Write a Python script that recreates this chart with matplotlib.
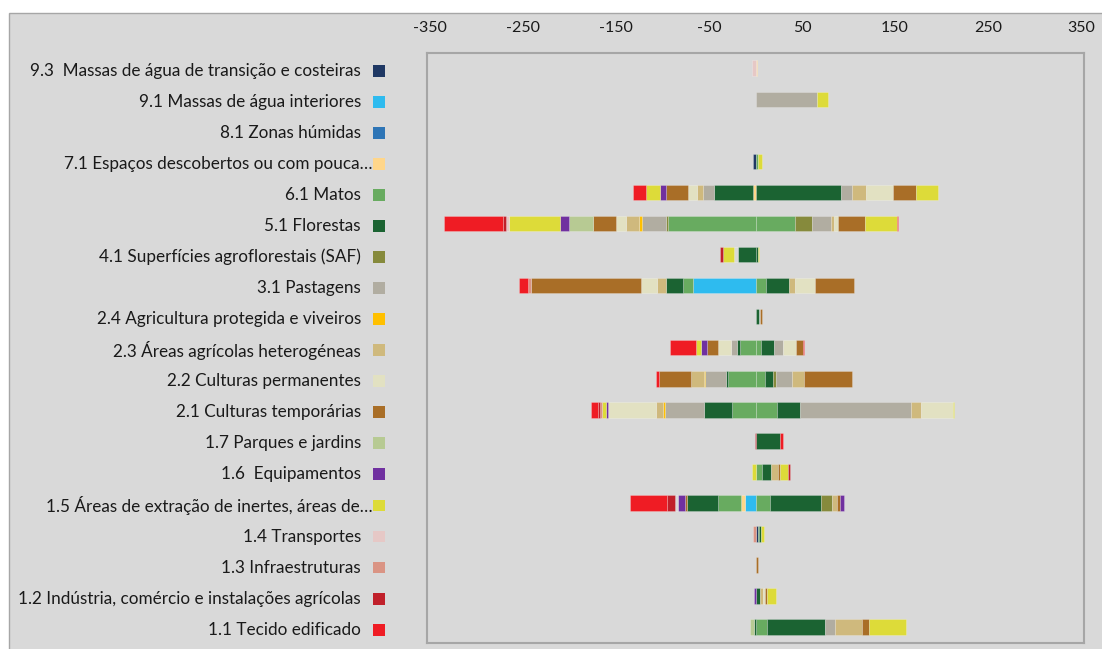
import numpy as np
import matplotlib.pyplot as plt
from matplotlib.transforms import blended_transform_factory
from matplotlib.patches import Rectangle

plt.rcParams["axes.unicode_minus"] = False

# classes: stacking order from zero outwards, also the rows top to bottom
codes = ["9.3", "9.1", "8.1", "7.1", "6.1", "5.1", "4.1", "3.1", "2.4", "2.3",
         "2.2", "2.1", "1.7", "1.6", "1.5", "1.4", "1.3", "1.2", "1.1"]

labels = ["9.3  Massas de água de transição e costeiras",
          "9.1 Massas de água interiores",
          "8.1 Zonas húmidas",
          "7.1 Espaços descobertos ou com pouca…",
          "6.1 Matos",
          "5.1 Florestas",
          "4.1 Superfícies agroflorestais (SAF)",
          "3.1 Pastagens",
          "2.4 Agricultura protegida e viveiros",
          "2.3 Áreas agrícolas heterogéneas",
          "2.2 Culturas permanentes",
          "2.1 Culturas temporárias",
          "1.7 Parques e jardins",
          "1.6  Equipamentos",
          "1.5 Áreas de extração de inertes, áreas de…",
          "1.4 Transportes",
          "1.3 Infraestruturas",
          "1.2 Indústria, comércio e instalações agrícolas",
          "1.1 Tecido edificado"]

colors = ["#1f3864", "#2ebbef", "#2e75b6", "#ffd68a", "#68ab60", "#1b6332",
          "#868a3c", "#b1ada1", "#ffc000", "#cfb97d", "#e2e1c2", "#a96e27",
          "#b7ca93", "#7030a0", "#dddb39", "#e6c8c6", "#da9484", "#c0202a",
          "#ef1c24"]

# transitions per row (ha): class -> values, negative = loss, positive = gain
t_9_3 = {"1.4": [-3.5], "7.1": [1.4]}
t_9_1 = {"3.1": [65.9], "1.5": [11.7]}
t_8_1 = {}
t_7_1 = {"9.3": [-2.2], "6.1": [2.2], "1.5": [4.3]}
t_6_1 = {"7.1": [-3], "5.1": [-42.1, 92], "3.1": [-11, 11.3], "2.3": [-6.5, 15.1],
         "2.2": [-9.7, 28.9], "2.1": [-23.7, 24.9], "1.6": [-6.5],
         "1.5": [-15.3, 23.8], "1.1": [-13.8]}
t_5_1 = {"6.1": [-93.9, 42], "4.1": [-2.8, 18.7], "3.1": [-25.3, 20], "2.4": [-3.2],
         "2.3": [-14.1, 3.8], "2.2": [-10.3, 4.2], "2.1": [-24.8, 29.5],
         "1.7": [-25.8], "1.6": [-10.2], "1.5": [-54.8, 33.8], "1.4": [-2.8],
         "1.2": [-3.8], "1.1": [-63, 1.4]}
t_4_1 = {"5.1": [-19, 3.2], "4.1": [-3.6], "1.5": [-12.6, 1], "1.2": [-2.8]}
t_3_1 = {"9.1": [-66.8], "6.1": [-11.2, 10.8], "5.1": [-18.7, 25], "2.3": [-9.4, 6.5],
         "2.2": [-17.3, 22], "2.1": [-118, 41.7], "1.3": [-3.3], "1.1": [-9.8]}
t_2_4 = {"5.1": [3.5], "2.4": [1], "2.1": [2.5]}
t_2_3 = {"6.1": [-16.6, 6.1], "5.1": [-3.8, 14], "3.1": [-6.1, 9.4],
         "2.2": [-13.6, 13.6], "2.1": [-11.6, 7.5], "1.6": [-6.6], "1.5": [-5.7],
         "1.1": [-28.1, 1.3]}
t_2_2 = {"6.1": [-29.3, 9.9], "5.1": [-2.8, 8.8], "4.1": [2.8], "3.1": [-22, 17.8],
         "2.4": [-1], "2.3": [-14.5, 13.1], "2.1": [-34.1, 51], "1.1": [-2.9]}
t_2_1 = {"6.1": [-25.5, 23.4], "5.1": [-29.4, 24.4], "3.1": [-42.3, 119.4],
         "2.4": [-2.2], "2.3": [-7.5, 10.8], "2.2": [-51.7, 34.1], "1.6": [-2.2],
         "1.5": [-4.3, 1.4], "1.3": [-2.2], "1.2": [-1.8], "1.1": [-7.2]}
t_1_7 = {"5.1": [26.3], "1.2": [-1], "1.1": [3.7]}
t_1_6 = {"6.1": [6.6], "5.1": [9.8], "2.3": [7.5], "2.1": [2.4], "1.5": [-4.2, 8.4],
         "1.2": [2.4]}
t_1_5 = {"9.1": [-11.8], "7.1": [-4.3], "6.1": [-24.3, 15.5], "5.1": [-33, 54.7],
         "4.1": [11.7], "2.3": [5.2], "2.1": [-2.6, 4.2], "1.6": [-7.5, 3.3],
         "1.5": [-2.5], "1.2": [-9.4], "1.1": [-39.4]}
t_1_4 = {"9.3": [2.2], "6.1": [1.4], "5.1": [2.6], "1.5": [2.8], "1.3": [-2.2]}
t_1_3 = {"2.1": [2.7]}
t_1_2 = {"5.1": [4.3], "2.3": [3.6], "2.2": [2.2], "2.1": [2.2], "1.6": [-2],
         "1.5": [10]}
t_1_1 = {"6.1": [12.7], "5.1": [-1.1, 62.1], "3.1": [10.8], "2.3": [29], "2.1": [7],
         "1.7": [-4.3], "1.5": [40.3]}

rows = [t_9_3, t_9_1, t_8_1, t_7_1, t_6_1, t_5_1, t_4_1, t_3_1, t_2_4, t_2_3,
        t_2_2, t_2_1, t_1_7, t_1_6, t_1_5, t_1_4, t_1_3, t_1_2, t_1_1]

xticks = [-350, -250, -150, -50, 50, 150, 250, 350]

bg = "#d9d9d9"
W, H = 1102, 649
fig = plt.figure(figsize=(W / 100, H / 100), dpi=100)
fig.patch.set_facecolor("white")
fig.patches.append(Rectangle((9 / W, -0.01), 1.0, (H - 13) / H + 0.01,
                             transform=fig.transFigure, facecolor=bg,
                             edgecolor="#a6a6a6", lw=1, zorder=-10))

ax = fig.add_axes([427 / W, 1 - 642.7 / H, (1084 - 427) / W, (642.7 - 52.7) / H])
ax.set_facecolor(bg)

n = len(codes)
for i, row in enumerate(rows):
    y = n - 1 - i
    neg = 0.0
    pos = 0.0
    for j, c in enumerate(codes):
        for v in row.get(c, []):
            fc = "none" if c == codes[i] else colors[j]
            if v < 0:
                ax.barh(y, v, left=neg, height=0.5, color=fc,
                        edgecolor=(1, 1, 1, 0.25), lw=0.6)
                neg += v
            else:
                ax.barh(y, v, left=pos, height=0.5, color=fc,
                        edgecolor=(1, 1, 1, 0.25), lw=0.6)
                pos += v

ax.set_xlim(-353, 353)
ax.set_ylim(-0.5, n - 0.5)
ax.xaxis.tick_top()
ax.set_xticks(xticks)
ax.tick_params(axis="x", length=0, pad=13, labelsize=11.5, labelcolor="#1a1a1a")
ax.set_yticks([])
for s in ax.spines.values():
    s.set_color("#a6a6a6")
    s.set_linewidth(1.5)
for lab in ax.get_xticklabels():
    lab.set_fontfamily("Lato")

# legend column, aligned with the rows (sits a little lower than the bars)
tr = blended_transform_factory(fig.transFigure, ax.transData)
for i, lab in enumerate(labels):
    y = n - 1 - i - 0.08
    xr = 373 if lab.endswith("…") else 361
    ax.text(xr / W, y, lab, transform=tr, ha="right", va="center",
            fontsize=12.3, family="Lato", color="#1a1a1a", clip_on=False)
    ax.add_patch(Rectangle((373 / W, y - 0.19), 12 / W, 0.38, transform=tr,
                           facecolor=colors[i], edgecolor="none", clip_on=False))

plt.savefig("out.png", dpi=100, facecolor=fig.get_facecolor())
